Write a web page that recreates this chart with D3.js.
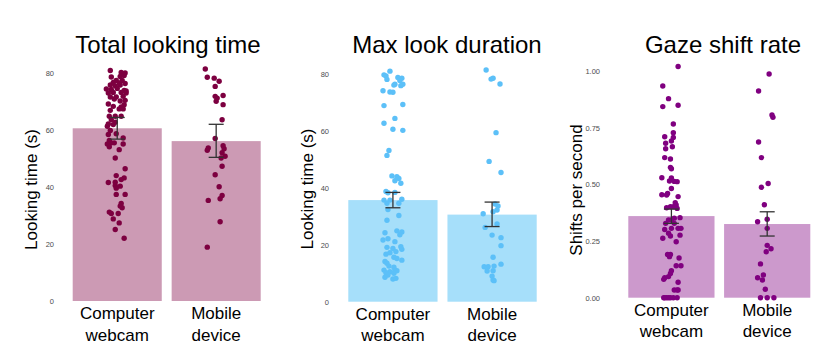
<!DOCTYPE html>
<html>
<head>
<meta charset="utf-8">
<script src="https://cdn.jsdelivr.net/npm/d3@7"></script>
<style>
  body { margin: 0; background: #fff; }
  svg text { font-family: "Liberation Sans", Arial, sans-serif; }
</style>
</head>
<body>
<div id="chart"></div>
<script>
const width = 826;
const height = 352;

// Groups
const groups = ["Computer webcam", "Mobile device"];

// Panel titles / axis labels
const titles = ["Total looking time", "Max look duration", "Gaze shift rate"];
const yLabels = ["Looking time (s)", "Looking time (s)", "Shifts per second"];

// Bar means and error bars (lo, hi) per group
const totalMeans = [60.6, 56.1];
const totalErr = [[56.8, 64.4], [50.4, 62.0]];
const maxMeans = [35.7, 30.6];
const maxErr = [[33.0, 38.4], [26.4, 35.0]];
const shiftMeans = [0.36, 0.325];
const shiftErr = [[0.328, 0.391], [0.272, 0.379]];

// Tick values
const lookTicks = [0, 20, 40, 60, 80];
const shiftTicks = [0, 0.25, 0.5, 0.75, 1.0];

// Individual points: [jitter (in band steps), value]
const totalWebcam = [
  [-0.07, 80.9], [0.04, 80.2], [0.08, 80.0], [-0.06, 78.6], [0.03, 78.8], [0.07, 79.1],
  [-0.01, 77.4], [0.05, 77.4], [-0.04, 76.7], [0.02, 76.5], [0.08, 76.3], [-0.07, 75.8],
  [-0.02, 75.5], [0.03, 75.8], [-0.11, 74.4], [-0.06, 74.2], [0.0, 74.6], [0.07, 73.9],
  [0.09, 73.7], [-0.09, 73.0], [-0.04, 73.2], [0.04, 73.2], [0.09, 73.0], [-0.07, 71.6],
  [-0.01, 71.6], [0.06, 71.8], [-0.03, 70.9], [0.03, 70.2], [0.08, 70.4], [-0.09, 69.1],
  [0.07, 68.9], [-0.04, 68.3], [0.04, 68.1], [0.02, 67.4], [-0.07, 66.9], [0.06, 67.4],
  [-0.08, 64.8], [-0.02, 64.8], [0.04, 64.8], [-0.06, 63.6], [-0.02, 62.7], [-0.09, 62.1],
  [-0.10, 61.3], [-0.04, 61.9], [-0.07, 59.8], [-0.09, 58.4], [-0.01, 58.7], [0.06, 57.2],
  [-0.08, 56.3], [-0.10, 55.1], [-0.06, 55.5], [-0.08, 54.1], [-0.03, 55.5], [0.06, 55.1],
  [0.02, 53.1], [-0.02, 50.2], [0.08, 46.4], [-0.01, 44.0], [0.07, 43.2], [0.04, 42.6],
  [-0.02, 41.7], [-0.09, 41.6], [-0.02, 40.5], [0.03, 40.3], [-0.01, 39.6], [-0.01, 37.4],
  [0.08, 37.4], [0.04, 34.2], [0.03, 33.3], [0.05, 32.7], [-0.08, 31.2], [-0.06, 30.7],
  [0.01, 30.7], [-0.04, 28.8], [0.02, 27.4], [-0.02, 25.1], [0.07, 22.0]
];
const totalMobile = [
  [-0.11, 81.4], [-0.09, 78.5], [-0.02, 78.2], [0.03, 77.1], [-0.01, 75.3], [-0.01, 71.8],
  [0.07, 72.1], [0.01, 71.2], [0.0, 70.1], [0.07, 68.9], [0.06, 63.6], [-0.01, 57.0],
  [-0.08, 53.7], [-0.09, 52.9], [0.07, 54.5], [0.08, 53.4], [0.06, 52.0], [0.09, 50.8],
  [0.05, 50.2], [0.06, 47.3], [-0.01, 44.3], [0.03, 40.1], [0.06, 37.0], [0.04, 35.9],
  [-0.08, 35.3], [0.04, 27.8], [-0.09, 18.9]
];
const maxWebcam = [
  [-0.03, 81.0], [-0.09, 79.7], [-0.07, 79.3], [-0.06, 78.1], [0.05, 78.8], [0.09, 78.5],
  [0.07, 77.7], [0.02, 76.4], [0.01, 76.1], [0.10, 76.4], [0.08, 75.9], [-0.10, 74.1],
  [-0.03, 73.7], [0.0, 73.6], [-0.09, 68.9], [0.10, 69.3], [0.02, 64.4], [-0.09, 62.7],
  [0.0, 60.6], [0.10, 60.2], [-0.04, 53.1], [-0.06, 51.4], [-0.01, 44.2], [0.04, 43.9],
  [0.06, 43.3], [0.02, 42.5], [0.08, 41.6], [-0.07, 38.7], [-0.05, 38.3], [0.02, 38.4],
  [-0.09, 35.7], [-0.03, 35.7], [-0.06, 34.6], [0.09, 36.0], [0.06, 34.6], [-0.05, 32.4],
  [0.06, 30.3], [-0.06, 28.6], [-0.08, 24.2], [0.04, 24.9], [0.09, 24.5], [0.07, 23.5],
  [-0.10, 21.7], [-0.05, 22.1], [0.02, 21.1], [-0.06, 19.1], [0.0, 18.7], [0.08, 19.3],
  [0.09, 18.4], [-0.03, 17.2], [-0.07, 16.7], [0.03, 17.6], [0.01, 15.6], [0.04, 15.2],
  [0.09, 14.6], [-0.08, 14.1], [-0.06, 13.5], [-0.04, 12.5], [0.01, 12.1], [-0.09, 11.1],
  [-0.03, 10.5], [0.02, 11.1], [-0.07, 10.2], [-0.05, 9.4], [0.04, 10.9], [0.01, 10.0],
  [-0.08, 8.6], [0.0, 8.0], [0.03, 8.2]
];
const maxMobile = [
  [-0.06, 81.4], [-0.01, 78.2], [0.01, 78.5], [0.08, 76.5], [0.04, 59.4], [-0.03, 49.3],
  [0.09, 45.4], [-0.09, 30.9], [0.03, 34.3], [0.06, 33.6], [0.05, 32.2], [0.01, 31.6],
  [-0.07, 26.1], [0.05, 27.3], [0.0, 23.4], [0.09, 22.5], [0.09, 19.7], [0.01, 15.6],
  [0.09, 13.2], [-0.08, 12.3], [-0.04, 12.3], [0.02, 12.5], [-0.05, 10.8], [0.01, 10.9],
  [0.0, 9.0], [0.01, 7.6], [0.02, 7.4]
];
const shiftWebcam = [
  [0.07, 1.02], [-0.09, 0.934], [-0.03, 0.878], [-0.09, 0.843], [0.07, 0.849], [0.02, 0.766],
  [0.02, 0.728], [-0.07, 0.710], [0.02, 0.707], [0.0, 0.691], [-0.06, 0.681], [0.01, 0.666],
  [-0.06, 0.657], [-0.07, 0.618], [-0.01, 0.612], [-0.01, 0.575], [0.0, 0.569], [-0.10, 0.529],
  [0.0, 0.528], [-0.02, 0.515], [0.03, 0.513], [0.06, 0.512], [0.0, 0.482], [-0.10, 0.454],
  [-0.05, 0.453], [-0.04, 0.46], [0.07, 0.446], [0.04, 0.419], [0.05, 0.409], [-0.05, 0.397],
  [-0.01, 0.401], [0.02, 0.401], [0.06, 0.394], [0.03, 0.351], [0.09, 0.353], [-0.03, 0.343],
  [0.0, 0.343], [-0.06, 0.328], [0.03, 0.328], [0.0, 0.306], [-0.07, 0.301], [0.07, 0.306],
  [0.10, 0.306], [-0.03, 0.284], [-0.01, 0.272], [0.09, 0.276], [-0.09, 0.262], [0.05, 0.247],
  [-0.04, 0.191], [-0.01, 0.191], [-0.02, 0.181], [0.08, 0.175], [0.05, 0.141], [0.10, 0.141],
  [0.0, 0.119], [-0.01, 0.107], [-0.07, 0.088], [-0.08, 0.081], [-0.03, 0.093], [0.07, 0.068],
  [0.03, 0.034], [0.06, 0.034], [0.07, 0.034], [-0.08, 0.0], [-0.05, 0.0], [-0.01, 0.0],
  [0.02, 0.0], [0.06, 0.0], [-0.03, 0.0], [-0.07, 0.0]
];
const shiftMobile = [
  [0.02, 0.987], [-0.09, 0.912], [0.05, 0.806], [0.06, 0.796], [-0.09, 0.687], [-0.06, 0.618],
  [0.01, 0.504], [-0.06, 0.487], [-0.03, 0.410], [0.0, 0.346], [-0.10, 0.335], [0.0, 0.306],
  [0.0, 0.231], [0.04, 0.216], [-0.01, 0.203], [-0.07, 0.149], [-0.04, 0.100], [-0.10, 0.088],
  [-0.05, 0.078], [-0.02, 0.037], [-0.07, 0.0], [0.0, 0.0], [0.07, 0.0]
];

const panels = [
  {
    title: titles[0], yLabel: yLabels[0], means: totalMeans, errs: totalErr,
    points: [totalWebcam, totalMobile], ticks: lookTicks, domain: [0, 80], fmt: d3.format("d"),
    xRange: [72.7, 260.7], yRange: [301, 73], tickX: 54, labelX: 31, labelY: 189.5, titleX: 168,
    bar: "#cc9ab4", dot: "#7d0040"
  },
  {
    title: titles[1], yLabel: yLabels[1], means: maxMeans, errs: maxErr,
    points: [maxWebcam, maxMobile], ticks: lookTicks, domain: [0, 80], fmt: d3.format("d"),
    xRange: [348.3, 536.7], yRange: [301.7, 74], tickX: 329, labelX: 307, labelY: 189, titleX: 447,
    bar: "#a6dffa", dot: "#5cc0f8"
  },
  {
    title: titles[2], yLabel: yLabels[2], means: shiftMeans, errs: shiftErr,
    points: [shiftWebcam, shiftMobile], ticks: shiftTicks, domain: [0, 1], fmt: d3.format(".2f"),
    xRange: [628.3, 810.3], yRange: [297.7, 71], tickX: 600, labelX: 576, labelY: 190, titleX: 723,
    bar: "#cc99cc", dot: "#800080"
  }
];

const svg = d3
  .select("#chart")
  .append("svg")
  .attr("width", width)
  .attr("height", height);

panels.forEach((p) => {
  const g = svg.append("g");

  const xScale = d3
    .scaleBand()
    .domain(groups)
    .range(p.xRange)
    .paddingInner(0.1)
    .paddingOuter(0);

  const yScale = d3.scaleLinear().domain(p.domain).range(p.yRange);

  // Bars
  g.selectAll(".bar")
    .data(p.means)
    .enter()
    .append("rect")
    .attr("x", (d, i) => xScale(groups[i]))
    .attr("y", (d) => yScale(d))
    .attr("width", xScale.bandwidth())
    .attr("height", (d) => yScale(0) - yScale(d))
    .attr("fill", p.bar);

  // Jittered points
  p.points.forEach((pts, i) => {
    const cx0 = xScale(groups[i]) + xScale.bandwidth() / 2;
    g.selectAll(".pt-" + i)
      .data(pts)
      .enter()
      .append("circle")
      .attr("cx", (d) => cx0 + d[0] * xScale.step())
      .attr("cy", (d) => yScale(d[1]))
      .attr("r", 2.7)
      .attr("fill", p.dot);
  });

  // Error bars
  const capHalf = 7.5;
  p.errs.forEach((e, i) => {
    const cx = xScale(groups[i]) + xScale.bandwidth() / 2;
    const eb = g.append("g").attr("stroke", "#333").attr("stroke-width", 1.3);
    eb.append("line").attr("x1", cx).attr("x2", cx).attr("y1", yScale(e[0])).attr("y2", yScale(e[1]));
    eb.append("line").attr("x1", cx - capHalf).attr("x2", cx + capHalf).attr("y1", yScale(e[0])).attr("y2", yScale(e[0]));
    eb.append("line").attr("x1", cx - capHalf).attr("x2", cx + capHalf).attr("y1", yScale(e[1])).attr("y2", yScale(e[1]));
  });

  // Y axis (labels only)
  const yAxis = g
    .append("g")
    .attr("transform", `translate(${p.tickX}, 0)`)
    .call(d3.axisLeft(yScale).tickValues(p.ticks).tickFormat(p.fmt).tickSize(0).tickPadding(0));
  yAxis.select(".domain").remove();
  yAxis.selectAll("text").attr("fill", "#4d4d4d").style("font-size", "7.5px");

  // X axis labels, two lines
  const xAxis = g
    .append("g")
    .attr("transform", `translate(0, ${yScale(0)})`)
    .call(d3.axisBottom(xScale).tickSize(0).tickPadding(0));
  xAxis.select(".domain").remove();
  xAxis.selectAll("text").each(function (d) {
    const words = d.split(" ");
    const t = d3.select(this).text(null).attr("fill", "#000").style("font-size", "17px").attr("dy", null);
    words.forEach((w, k) => {
      t.append("tspan").attr("x", 0).attr("y", 18 + k * 21.5).text(w);
    });
  });

  // Y axis title
  g.append("text")
    .attr("transform", `translate(${p.labelX}, ${p.labelY}) rotate(-90)`)
    .attr("text-anchor", "middle")
    .attr("dy", "0.35em")
    .style("font-size", "17px")
    .text(p.yLabel);

  // Panel title
  g.append("text")
    .attr("x", p.titleX)
    .attr("y", 52.5)
    .attr("text-anchor", "middle")
    .style("font-size", "24px")
    .text(p.title);
});
</script>
</body>
</html>
